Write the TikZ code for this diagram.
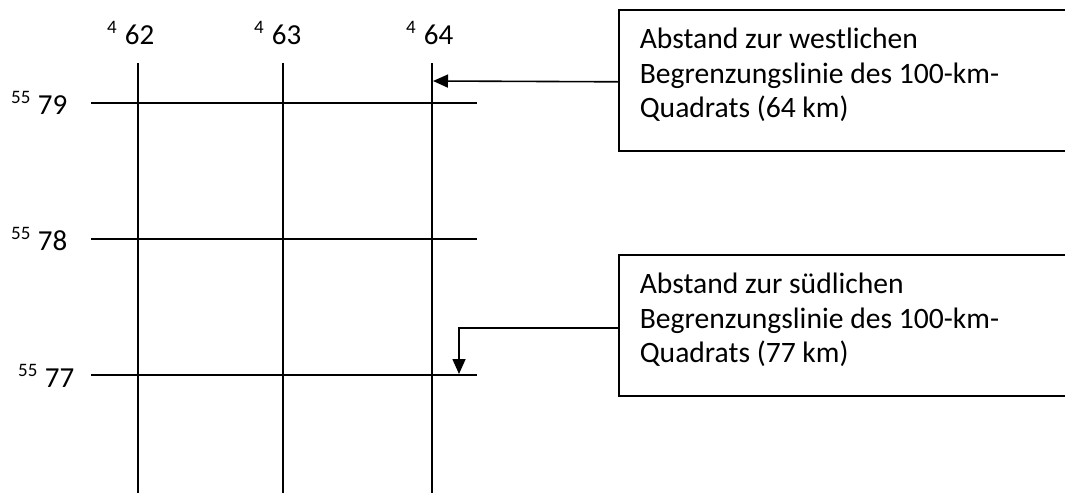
\documentclass[tikz,border=0pt]{standalone}
\usepackage{fontspec}
\setmainfont{Carlito}
\usetikzlibrary{arrows.meta}
\newcommand\supnum[1]{\raisebox{11pt}{\fontsize{19}{19}\selectfont #1}}
\newcommand\lastdepth{\rule[-15pt]{0pt}{1pt}}
\begin{document}
\begin{tikzpicture}[x=1pt,y=-1pt,
  gridline/.style={line width=1.6pt,black},
  lbl/.style={font=\fontsize{29}{34}\selectfont,inner sep=0pt,anchor=base west},
  note/.style={draw,line width=1.6pt,anchor=north west,minimum width=460pt,
    minimum height=141pt,text width=418pt,inner xsep=21pt,inner ysep=0pt,align=flush left,
    font=\fontsize{29.6}{34.5}\selectfont},
  arr/.style={line width=1.6pt,-{Triangle[length=15pt,width=13pt]}}]
\clip (0,0) rectangle (1065,493);
\fill[white] (0,0) rectangle (1065,493);
% grid
\coordinate (v1t) at (138,63); \coordinate (v1b) at (138,493);
\coordinate (v2t) at (283,63); \coordinate (v2b) at (283,493);
\coordinate (v3t) at (432,63); \coordinate (v3b) at (432,493);
\coordinate (h1l) at (91,103); \coordinate (h1r) at (477,103);
\coordinate (h2l) at (91,239); \coordinate (h2r) at (477,239);
\coordinate (h3l) at (91,375); \coordinate (h3r) at (477,375);
\draw[gridline] (v1t) -- (v1b);
\draw[gridline] (v2t) -- (v2b);
\draw[gridline] (v3t) -- (v3b);
\draw[gridline] (h1l) -- (h1r);
\draw[gridline] (h2l) -- (h2r);
\draw[gridline] (h3l) -- (h3r);
% top labels
\node[lbl] (e62) at (107,44) {\supnum{4}\hspace{8pt}62};
\node[lbl] (e63) at (254,44) {\supnum{4}\hspace{8pt}63};
\node[lbl] (e64) at (406,44) {\supnum{4}\hspace{8pt}64};
% left labels
\node[lbl] (n79) at (11,114) {\supnum{55}\hspace{7.5pt}79};
\node[lbl] (n78) at (11,250) {\supnum{55}\hspace{7.5pt}78};
\node[lbl] (n77) at (18,387) {\supnum{55}\hspace{7.5pt}77};
% boxes
\node[note] (b1) at (618,9) {Abstand zur westlichen\\Begrenzungslinie des 100-km-\\Quadrats (64 km)\lastdepth};
\node[note] (b2) at (618,254) {Abstand zur südlichen\\Begrenzungslinie des 100-km-\\Quadrats (77 km)\lastdepth};
% arrows
\coordinate (t1) at (433,81);
\coordinate (t2) at (459,374);
\draw[arr] ([yshift=-1.5pt]b1.west) -- (t1);
\draw[arr] ([yshift=-2.5pt]b2.west) -| (t2);
\end{tikzpicture}
\end{document}
